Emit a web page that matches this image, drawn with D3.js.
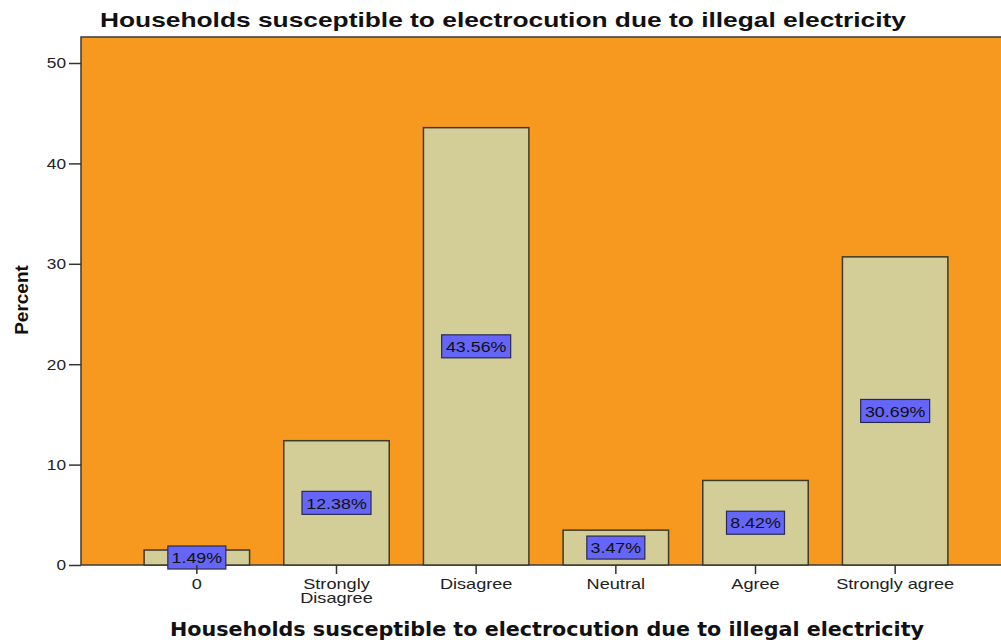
<!DOCTYPE html>
<html lang="en">
<head>
    <meta charset="UTF-8">
    <title>Households susceptible to electrocution due to illegal electricity</title>
    <script src="https://d3js.org/d3.v7.min.js"></script>
    <style>
        body { margin: 0; background: #fff; }
        text { font-family: "Liberation Sans", Arial, sans-serif; }
    </style>
</head>
<body>
    <div id="chart"></div>
    <script>
        // Chart data
        const categories = ["0", "Strongly Disagree", "Disagree", "Neutral", "Agree", "Strongly agree"];
        const percents = [1.49, 12.38, 43.56, 3.47, 8.42, 30.69];
        const yTicks = [0, 10, 20, 30, 40, 50];

        const W = 1001, H = 640;
        const plot = {left: 81, top: 37, right: 1001, bottom: 565};

        // widen a text horizontally, like the stretched original
        function stretch(sel, k) {
            sel.each(function() {
                const w = this.getComputedTextLength();
                d3.select(this)
                    .attr("textLength", w * k)
                    .attr("lengthAdjust", "spacingAndGlyphs");
            });
        }

        const svg = d3.select("#chart")
          .append("svg")
            .attr("width", W)
            .attr("height", H);

        const x = d3.scaleBand()
            .domain(categories)
            .range([127, 965])
            .paddingInner(0.245)
            .paddingOuter(0.1225);

        const y = d3.scaleLinear()
            .domain([0, 50])
            .range([plot.bottom, 63]);

        // Plot background
        svg.append("rect")
            .attr("x", plot.left)
            .attr("y", plot.top)
            .attr("width", plot.right - plot.left + 2)
            .attr("height", plot.bottom - plot.top)
            .attr("fill", "#f7981f")
            .attr("stroke", "#3a3a3a")
            .attr("stroke-width", 1.5);

        // Bars
        svg.selectAll(".bar")
            .data(percents)
            .enter()
            .append("rect")
            .attr("class", "bar")
            .attr("x", (d, i) => x(categories[i]))
            .attr("y", d => y(d))
            .attr("width", x.bandwidth())
            .attr("height", d => y(0) - y(d))
            .attr("fill", "#d3ce98")
            .attr("stroke", "#3d3a2a")
            .attr("stroke-width", 1.5);

        // Value labels
        const labels = svg.selectAll(".lbl")
            .data(percents)
            .enter()
            .append("g")
            .attr("class", "lbl")
            .attr("transform", (d, i) => `translate(${x(categories[i]) + x.bandwidth() / 2},${y(d / 2)})`);

        labels.append("rect")
            .attr("x", d => d >= 10 ? -34.5 : -29)
            .attr("y", -11.5)
            .attr("width", d => d >= 10 ? 69 : 58)
            .attr("height", 23)
            .attr("fill", "#6565f7")
            .attr("stroke", "#2a2a50")
            .attr("stroke-width", 1.2);

        labels.append("text")
            .attr("text-anchor", "middle")
            .attr("dy", "0.37em")
            .style("font-size", "15.5px")
            .attr("fill", "#111")
            .text(d => d.toFixed(2) + "%")
            .call(stretch, 1.15);

        // Y axis
        const yAxis = svg.append("g")
            .attr("transform", `translate(${plot.left},0)`)
            .call(d3.axisLeft(y).tickValues(yTicks).tickSize(12).tickPadding(3));
        yAxis.select(".domain").remove();
        yAxis.selectAll("line").attr("stroke", "#333").attr("stroke-width", 1.5);
        yAxis.selectAll("text")
            .style("font-size", "15px")
            .style("font-family", "'Liberation Sans', Arial, sans-serif")
            .attr("fill", "#222")
            .call(stretch, 1.15);

        // X axis
        const xAxis = svg.append("g")
            .attr("transform", `translate(0,${plot.bottom})`)
            .call(d3.axisBottom(x).tickSize(9).tickPadding(3));
        xAxis.select(".domain").remove();
        xAxis.selectAll("line").attr("stroke", "#333").attr("stroke-width", 1.5);
        xAxis.selectAll("text").remove();

        // X tick labels (with wrapping like the original)
        const xLabels = {"Strongly Disagree": ["Strongly", "Disagree"]};
        categories.forEach(c => {
            const lines = xLabels[c] || [c];
            lines.forEach((l, i) => {
                svg.append("text")
                    .attr("x", x(c) + x.bandwidth() / 2)
                    .attr("y", 589 + i * 14)
                    .attr("text-anchor", "middle")
                    .style("font-size", "14.5px")
                    .attr("fill", "#222")
                    .text(l)
                    .call(stretch, 1.25);
            });
        });

        // Title
        svg.append("text")
            .attr("x", 100)
            .attr("y", 27)
            .style("font-size", "21px")
            .style("font-weight", "bold")
            .attr("fill", "#111")
            .attr("textLength", 806)
            .attr("lengthAdjust", "spacingAndGlyphs")
            .text("Households susceptible to electrocution due to illegal electricity");

        // X axis title
        svg.append("text")
            .attr("x", 170)
            .attr("y", 636)
            .style("font-family", "'DejaVu Sans', Verdana, sans-serif")
            .style("font-size", "19px")
            .style("font-weight", "bold")
            .attr("fill", "#111")
            .attr("textLength", 754)
            .attr("lengthAdjust", "spacingAndGlyphs")
            .text("Households susceptible to electrocution due to illegal electricity");

        // Y axis title
        svg.append("text")
            .attr("transform", `translate(28,${300}) rotate(-90)`)
            .attr("text-anchor", "middle")
            .style("font-size", "19px")
            .style("font-weight", "bold")
            .attr("fill", "#111")
            .text("Percent");
    </script>
</body>
</html>
